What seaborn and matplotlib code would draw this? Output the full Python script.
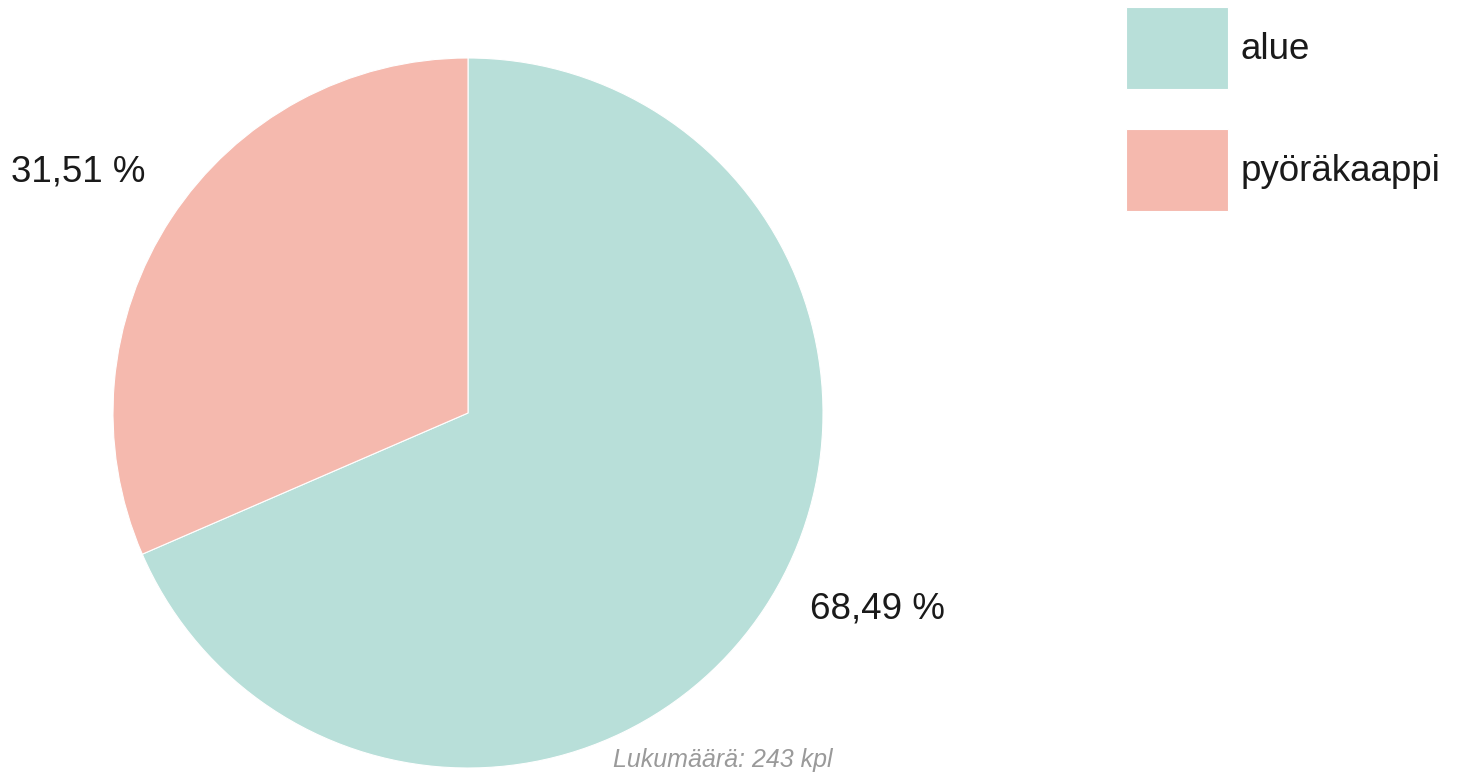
import matplotlib
matplotlib.use("Agg")
import matplotlib.pyplot as plt
import seaborn as sns

# data
categories = ["alue", "pyöräkaappi"]
shares = [68.49, 31.51]
colors = ["#b8dfd9", "#f5b9ae"]
total_count = 243

sns.set_theme(style="white")
plt.rcParams["font.family"] = ["Liberation Sans", "DejaVu Sans"]

fig = plt.figure(figsize=(14.59, 7.75), dpi=100)
ax = fig.add_axes([113 / 1459, 7 / 775, 710 / 1459, 710 / 775])

pal = sns.color_palette(colors)
wedges, texts = ax.pie(
    shares,
    colors=pal,
    startangle=90,
    counterclock=False,
    labels=[f"{v:.2f} %".replace(".", ",") for v in shares],
    labeldistance=1.12,
    wedgeprops=dict(edgecolor="white", linewidth=0.8),
    textprops=dict(fontsize=26.5, color="#1a1a1a"),
)
# nudge the value labels a little up/right, like the original
for t in texts:
    x, y = t.get_position()
    t.set_position((x + 0.027, y + 0.063))

ax.set_xlim(-1, 1)
ax.set_ylim(-1, 1)
ax.set_aspect("equal")
ax.axis("off")

fig.legend(
    wedges, categories,
    loc="upper left", bbox_to_anchor=(1126 / 1459, 1 - 7 / 775),
    frameon=False, fontsize=26.5, borderpad=0, borderaxespad=0,
    handlelength=2.77, handleheight=3.05, handletextpad=0.35,
    labelspacing=1.09, labelcolor="#1a1a1a",
)

fig.text(723 / 1459, 1 - 760 / 775, f"Lukumäärä: {total_count} kpl",
         ha="center", va="center", fontsize=18, style="italic", color="#9a9a9a")

fig.savefig("out.png", dpi=100)
